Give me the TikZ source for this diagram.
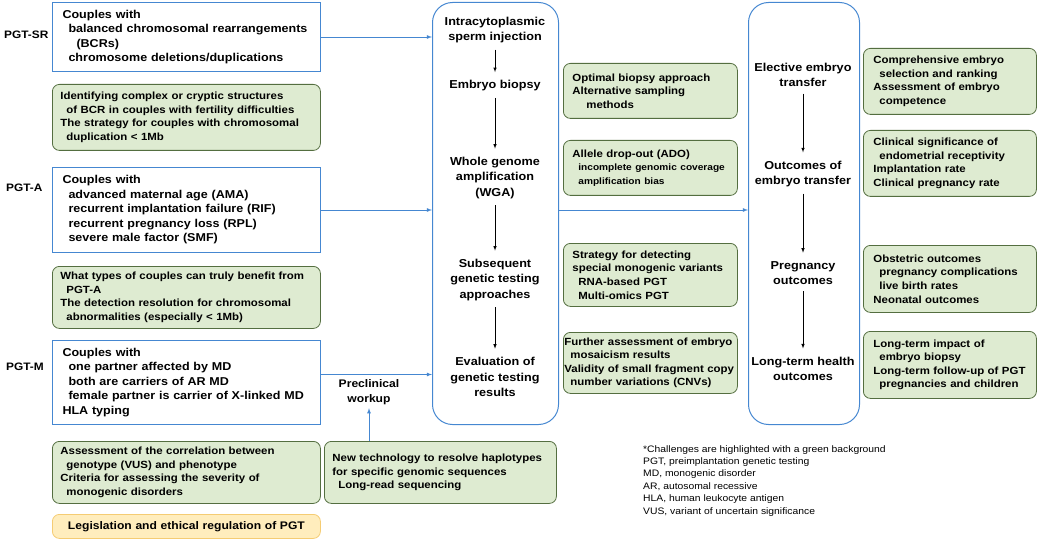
\documentclass[tikz,border=0pt]{standalone}
\usepackage{fontspec}
\setmainfont{Liberation Sans}[FakeStretch=1.1]
\usetikzlibrary{arrows,calc,positioning}
\definecolor{FlowClr}{rgb}{0.27,0.53,0.82}
\definecolor{ChalClr}{rgb}{0.87,0.92,0.82}
\definecolor{ChalLineClr}{rgb}{0.33,0.43,0.25}
\definecolor{LawClr}{rgb}{1,0.93,0.74}
\definecolor{LawLineClr}{rgb}{0.96,0.80,0.45}
\newcommand{\IndOne}{\hspace*{6pt}}
\newcommand{\IndTwo}{\hspace*{14pt}}

\begin{document}
\begin{tikzpicture}[x=1pt,y=-1pt,
  flow/.style={-latex,color=FlowClr,line width=0.8pt},
  stagearrow/.style={-latex,color=black,line width=0.6pt,shorten <=3pt,shorten >=5pt},
  groupbox/.style={draw=FlowClr,line width=1pt,anchor=north west,align=left,
    inner xsep=10pt,font=\bfseries\fontsize{11.4}{14.5}\selectfont},
  challenge/.style={draw=ChalLineClr,fill=ChalClr,rounded corners=7pt,line width=0.8pt,
    anchor=north west,align=left,inner xsep=8pt,font=\bfseries\fontsize{10.4}{13.6}\selectfont},
  stagebox/.style={draw=FlowClr,line width=1pt,rounded corners=20pt,anchor=north west},
  stage/.style={align=center,font=\bfseries\fontsize{11.5}{15.5}\selectfont},
  grouplabel/.style={anchor=west,inner sep=0pt,font=\bfseries\fontsize{10.8}{14}\selectfont}]
\useasboundingbox (0,0) rectangle (1038,540);

% The three indications on the left.
\node[grouplabel] (lsr) at (4,35) {PGT-SR};
\node[grouplabel] (la) at (6,188) {PGT-A};
\node[grouplabel] (lm) at (6,367) {PGT-M};

\node[groupbox,text width=248,minimum height=69] (pgtsr) at (52,2)
  {Couples with\\\IndOne balanced chromosomal rearrangements\\\IndTwo(BCRs)\\\IndOne chromosome deletions/duplications};
\node[groupbox,text width=248,minimum height=85] (pgta) at (52,167)
  {Couples with\\\IndOne advanced maternal age (AMA)\\\IndOne recurrent implantation failure (RIF)\\
   \IndOne recurrent pregnancy loss (RPL)\\\IndOne severe male factor (SMF)};
\node[groupbox,text width=248,minimum height=84] (pgtm) at (52,340)
  {Couples with\\\IndOne one partner affected by MD\\\IndOne both are carriers of AR MD\\
   \IndOne female partner is carrier of X-linked MD\\HLA typing};

% Challenges of the indications.
\node[challenge,text width=252,minimum height=66] (chsr) at (52,84)
  {Identifying complex or cryptic structures\\\IndOne of BCR in couples with fertility difficulties\\
   The strategy for couples with chromosomal\\\IndOne duplication < 1Mb};
\node[challenge,text width=252,minimum height=62] (cha) at (52,266)
  {What types of couples can truly benefit from\\\IndOne PGT-A\\
   The detection resolution for chromosomal\\\IndOne abnormalities (especially < 1Mb)};
\node[challenge,text width=252,minimum height=62] (chm) at (52,441)
  {Assessment of the correlation between\\\IndOne genotype (VUS) and phenotype\\
   Criteria for assessing the severity of\\\IndOne monogenic disorders};
\node[challenge,draw=LawLineClr,fill=LawClr,align=center,text width=252,minimum height=24,
  font=\bfseries\fontsize{11}{13.6}\selectfont] (law) at (52,514)
  {Legislation and ethical regulation of PGT};

\node[challenge,text width=216,minimum height=62] (newtech) at (324,441)
  {New technology to resolve haplotypes\\for specific genomic sequences\\\IndOne Long-read sequencing};
\node[stage,font=\bfseries\fontsize{11}{15}\selectfont] (precl) at (369,392) {Preclinical\\workup};

% The PGT procedure.
\node[stagebox,minimum width=126,minimum height=422] (proc) at (432,2) {};
\node[stage] (icsi) at (495,30) {Intracytoplasmic\\sperm injection};
\node[stage] (biopsy) at (495,86) {Embryo biopsy};
\node[stage] (wga) at (495,178) {Whole genome\\amplification\\(WGA)};
\node[stage] (testing) at (495,280) {Subsequent\\genetic testing\\approaches};
\node[stage] (evalres) at (495,377) {Evaluation of\\genetic testing\\results};

\draw[stagearrow] (icsi) -- (biopsy);
\draw[stagearrow] (biopsy) -- (wga);
\draw[stagearrow] (wga) -- (testing);
\draw[stagearrow] (testing) -- (evalres);

\node[challenge,inner xsep=9pt,text width=156,minimum height=55] (chbiop) at (563,63)
  {Optimal biopsy approach\\Alternative sampling\\\IndTwo methods};
\node[challenge,inner xsep=9pt,text width=156,minimum height=55] (chwga) at (563,140)
  {Allele drop-out (ADO)\\{\fontsize{9.2}{13}\selectfont\IndOne incomplete genomic coverage\\
   \IndOne amplification bias}};
\node[challenge,inner xsep=9pt,text width=156,minimum height=63] (chtest) at (563,243)
  {Strategy for detecting\\special monogenic variants\\\IndOne RNA-based PGT\\\IndOne Multi-omics PGT};
\node[challenge,inner xsep=1pt,text width=172,minimum height=61] (cheval) at (563,332)
  {Further assessment of embryo\\\IndOne mosaicism results\\
   Validity of small fragment copy\\\IndOne number variations (CNVs)};

% The outcomes.
\node[stagebox,minimum width=111,minimum height=422] (outc) at (748,2) {};
\node[stage] (elect) at (803,75) {Elective embryo\\transfer};
\node[stage] (transf) at (803,174) {Outcomes of\\embryo transfer};
\node[stage] (pregn) at (803,273) {Pregnancy\\outcomes};
\node[stage] (health) at (803,369) {Long-term health\\outcomes};

\draw[stagearrow] (elect) -- (transf);
\draw[stagearrow] (transf) -- (pregn);
\draw[stagearrow] (pregn) -- (health);

\node[challenge,inner xsep=10pt,text width=153,minimum height=66] (chelect) at (863,48)
  {Comprehensive embryo\\\IndOne selection and ranking\\Assessment of embryo\\\IndOne competence};
\node[challenge,inner xsep=10pt,text width=153,minimum height=66] (chtransf) at (863,130)
  {Clinical significance of\\\IndOne endometrial receptivity\\Implantation rate\\Clinical pregnancy rate};
\node[challenge,inner xsep=10pt,text width=153,minimum height=67] (chpregn) at (863,245)
  {Obstetric outcomes\\\IndOne pregnancy complications\\\IndOne live birth rates\\Neonatal outcomes};
\node[challenge,inner xsep=10pt,text width=153,minimum height=67] (chhealth) at (863,331)
  {Long-term impact of\\\IndOne embryo biopsy\\Long-term follow-up of PGT\\\IndOne pregnancies and children};

% Connections.
\draw[flow] (pgtsr.east) -- (pgtsr.east -| proc.west);
\draw[flow] (pgta.east) -- (pgta.east -| proc.west);
\draw[flow] ([yshift=8pt]pgtm.east) -- ([yshift=8pt]pgtm.east -| proc.west);
\draw[flow] (newtech.north -| precl) -- (precl.south);
\draw[flow] (proc.east |- pgta.east) -- (outc.west |- pgta.east);

\node[anchor=north west,align=left,inner sep=0pt,font=\fontsize{9.4}{12.4}\selectfont] (notes) at (643,445)
  {*Challenges are highlighted with a green background\\PGT, preimplantation genetic testing\\
   MD, monogenic disorder\\AR, autosomal recessive\\HLA, human leukocyte antigen\\
   VUS, variant of uncertain significance};
\end{tikzpicture}
\end{document}
